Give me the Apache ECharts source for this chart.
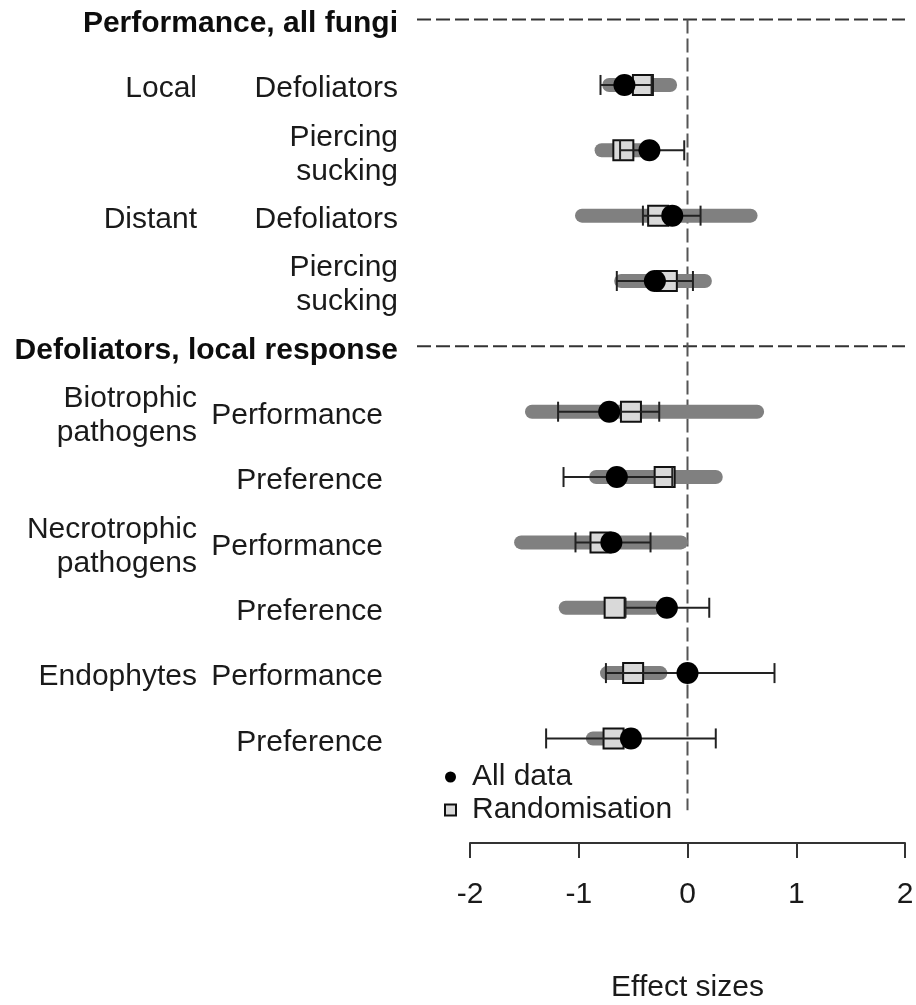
<!DOCTYPE html>
<html>
<head>
<meta charset="utf-8">
<script src="https://cdn.jsdelivr.net/npm/echarts@6/dist/echarts.min.js"></script>
<style>
html,body{margin:0;padding:0;background:#fff;}
#chart{width:916px;height:1005px;}
</style>
</head>
<body>
<div id="chart"></div>
<script>
// ---- data ----
var headers = ['Performance, all fungi', 'Defoliators, local response'];
var headerSlots = [0, 5];
var rowSlots = [1, 2, 3, 4, 6, 7, 8, 9, 10, 11];
var groupLabels = ['Local', '', 'Distant', '', 'Biotrophic\npathogens', '', 'Necrotrophic\npathogens', '', 'Endophytes', ''];
var rowLabels = ['Defoliators', 'Piercing\nsucking', 'Defoliators', 'Piercing\nsucking', 'Performance', 'Preference', 'Performance', 'Preference', 'Performance', 'Preference'];
// All data: mean and confidence interval
var allMean = [-0.58, -0.35, -0.14, -0.30, -0.72, -0.65, -0.70, -0.19, 0.00, -0.52];
var allLow  = [-0.80, -0.62, -0.41, -0.65, -1.19, -1.14, -1.03, -0.57, -0.75, -1.30];
var allHigh = [-0.33, -0.03, 0.12, 0.05, -0.26, -0.14, -0.34, 0.20, 0.80, 0.26];
// Randomisation: mean and interval (grey band)
var randMean = [-0.41, -0.59, -0.27, -0.19, -0.52, -0.21, -0.80, -0.67, -0.50, -0.68];
var randLow  = [-0.72, -0.79, -0.97, -0.61, -1.43, -0.84, -1.53, -1.12, -0.74, -0.87];
var randHigh = [-0.16, -0.36, 0.58, 0.16, 0.64, 0.26, -0.06, -0.30, -0.25, -0.59];
var xTicks = [-2, -1, 0, 1, 2];
var zeroLineSpan = [0, 12.1];

// ---- build ----
var FONT = "'Liberation Sans', Arial, sans-serif";
var FS = 30;
var bandData = rowSlots.map(function (s, i) { return [randLow[i], randHigh[i], s]; });
var errData = rowSlots.map(function (s, i) { return [allLow[i], allHigh[i], s]; });
var allPts = rowSlots.map(function (s, i) { return [allMean[i], s]; });
var randPts = rowSlots.map(function (s, i) { return [randMean[i], s]; });
var labelData = rowSlots.map(function (s, i) { return [xTicks[0], s, i]; });
var headerData = headerSlots.map(function (s, i) { return [xTicks[0], s, i]; });

var chart = echarts.init(document.getElementById('chart'), null, { renderer: 'canvas' });
chart.setOption({
  animation: false,
  backgroundColor: '#fff',
  grid: { left: 470, right: 11, top: 0, height: 843, containLabel: false, outerBoundsMode: 'none' },
  xAxis: {
    type: 'value', min: -2, max: 2, interval: 1, position: 'bottom',
    splitLine: { show: false },
    axisLine: { show: true, onZero: false, lineStyle: { color: '#333', width: 2 } },
    axisTick: { show: true, length: 15, lineStyle: { color: '#333', width: 2 } },
    axisLabel: { fontSize: FS, fontFamily: FONT, color: '#1a1a1a', margin: 37,
      formatter: function (v) { return xTicks.indexOf(v) >= 0 ? String(v) : ''; } },
    name: 'Effect sizes', nameLocation: 'middle', nameGap: 130,
    nameTextStyle: { fontSize: FS, fontFamily: FONT, color: '#1a1a1a' }
  },
  yAxis: { type: 'value', min: -0.3, max: 12.6, inverse: true, show: false },
  legend: {
    left: 439, top: 757, orient: 'vertical', itemGap: 3,
    itemWidth: 11, itemHeight: 11,
    textStyle: { fontSize: FS, fontFamily: FONT, color: '#1a1a1a', padding: [0, 0, 0, 11] },
    data: [{ name: 'All data', icon: 'circle' }, { name: 'Randomisation', icon: 'rect' }]
  },
  series: [
    { // zero reference line
      type: 'line', data: [[0, zeroLineSpan[0]], [0, zeroLineSpan[1]]], symbol: 'none', clip: false,
      lineStyle: { color: '#555', width: 2, type: [14, 5] }, z: 1, silent: true
    },
    { // header dashed lines + header text
      type: 'custom', data: headerData, clip: false, z: 1,
      renderItem: function (params, api) {
        var cs = params.coordSys;
        var y = api.coord([api.value(0), api.value(1)])[1];
        var idx = api.value(2);
        return { type: 'group', children: [
          { type: 'line', shape: { x1: cs.x - 53, y1: y, x2: cs.x + cs.width, y2: y },
            style: { stroke: '#333', lineWidth: 2, lineDash: [14, 5] } },
          { type: 'text', x: cs.x - 72, y: y + 4,
            style: { text: headers[idx], fill: '#0d0d0d', font: 'bold ' + FS + 'px ' + FONT,
              textAlign: 'right', textVerticalAlign: 'middle' } }
        ] };
      }
    },
    { // row labels
      type: 'custom', data: labelData, clip: false, z: 1,
      renderItem: function (params, api) {
        var cs = params.coordSys;
        var y = api.coord([api.value(0), api.value(1)])[1];
        var idx = api.value(2);
        var right2 = idx < 4 ? cs.x - 72 : cs.x - 87;
        return { type: 'group', children: [
          { type: 'text', x: cs.x - 273, y: y + 4,
            style: { text: groupLabels[idx], fill: '#1a1a1a', font: FS + 'px ' + FONT,
              textAlign: 'right', textVerticalAlign: 'middle', lineHeight: 34 } },
          { type: 'text', x: right2, y: y + 4,
            style: { text: rowLabels[idx], fill: '#1a1a1a', font: FS + 'px ' + FONT,
              textAlign: 'right', textVerticalAlign: 'middle', lineHeight: 34 } }
        ] };
      }
    },
    { // grey randomisation bands
      type: 'custom', data: bandData, z: 2,
      renderItem: function (params, api) {
        var p1 = api.coord([api.value(0), api.value(2)]);
        var p2 = api.coord([api.value(1), api.value(2)]);
        return { type: 'line', shape: { x1: p1[0], y1: p1[1], x2: p2[0], y2: p2[1] },
          style: { stroke: '#808080', lineWidth: 14, lineCap: 'round' } };
      }
    },
    {
      name: 'Randomisation', type: 'scatter', data: randPts, symbol: 'rect', symbolSize: 20, z: 3,
      itemStyle: { color: '#d9d9d9', borderColor: '#111', borderWidth: 2, opacity: 1 }
    },
    { // error bars for all data
      type: 'custom', data: errData, z: 4,
      renderItem: function (params, api) {
        var p1 = api.coord([api.value(0), api.value(2)]);
        var p2 = api.coord([api.value(1), api.value(2)]);
        var st = { stroke: '#222', lineWidth: 2 };
        return { type: 'group', children: [
          { type: 'line', shape: { x1: p1[0], y1: p1[1], x2: p2[0], y2: p2[1] }, style: st },
          { type: 'line', shape: { x1: p1[0], y1: p1[1] - 10, x2: p1[0], y2: p1[1] + 10 }, style: st },
          { type: 'line', shape: { x1: p2[0], y1: p2[1] - 10, x2: p2[0], y2: p2[1] + 10 }, style: st }
        ] };
      }
    },
    {
      name: 'All data', type: 'scatter', data: allPts, symbol: 'circle', symbolSize: 22, z: 5,
      itemStyle: { color: '#000', opacity: 1 }
    }
  ]
});
</script>
</body>
</html>
